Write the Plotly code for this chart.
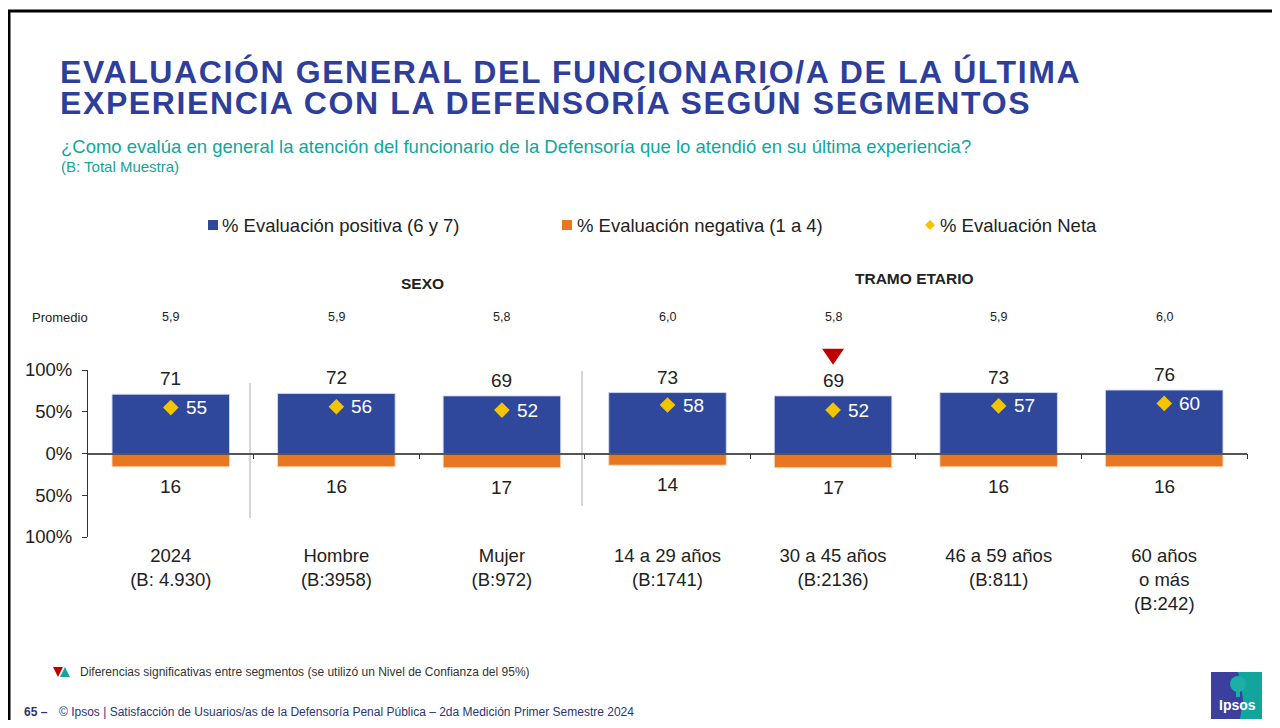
import plotly.graph_objects as go

# ---------------- data ----------------
categories = ["2024<br>(B: 4.930)", "Hombre<br>(B:3958)", "Mujer<br>(B:972)",
              "14 a 29 años<br>(B:1741)", "30 a 45 años<br>(B:2136)",
              "46 a 59 años<br>(B:811)", "60 años<br>o más<br>(B:242)"]
positive = [71, 72, 69, 73, 69, 73, 76]
negative = [16, 16, 17, 14, 17, 16, 16]
net = [55, 56, 52, 58, 52, 57, 60]
promedio = ["5,9", "5,9", "5,8", "6,0", "5,8", "5,9", "6,0"]
significance = [None, None, None, None, "down", None, None]
ytick_vals = [-100, -50, 0, 50, 100]
ytick_text = ["100%", "50%", "0%", "50%", "100%"]

# ---------------- style ----------------
FONT = "Liberation Sans, Arial, sans-serif"
BLUE = "#2F489C"
ORANGE = "#E87722"
YELLOW = "#F2C500"
TITLE_BLUE = "#2E3F9B"
TEAL = "#12A59C"
TXT = "#222222"

O = 8  # page body margin
W, H = 1264, 712
L = 88 - O
T = 370 - O
R = W - (1247 - O)
B = H - (537 - O)
PW, PH = W - L - R, H - T - B
Y_RANGE = [-100, 100]
X_RANGE = [-0.5, 6.5]


def px(x):
    return (x - O - L) / PW


def py(y):
    return (H - B - (y - O)) / PH


def data_to_paper_x(i):
    return (i - X_RANGE[0]) / (X_RANGE[1] - X_RANGE[0])


def data_to_paper_y(v):
    return (v - Y_RANGE[0]) / (Y_RANGE[1] - Y_RANGE[0])


fig = go.Figure()

fig.add_trace(go.Bar(x=categories, y=positive, name="% Evaluación positiva (6 y 7)",
                     marker=dict(color=BLUE, line=dict(color="rgba(210,218,240,0.9)", width=1)),
                     width=0.71, showlegend=False, hoverinfo="skip"))
fig.add_trace(go.Bar(x=categories, y=[-v for v in negative], name="% Evaluación negativa (1 a 4)",
                     marker=dict(color=ORANGE, line=dict(color="rgba(250,220,190,0.9)", width=1)),
                     width=0.71, showlegend=False, hoverinfo="skip"))
fig.add_trace(go.Scatter(x=categories, y=net, mode="markers", name="% Evaluación Neta",
                         marker=dict(symbol="diamond", size=12, color=YELLOW),
                         showlegend=False, hoverinfo="skip"))

# helper axis for the zero line with boundary ticks
fig.add_trace(go.Scatter(x=[None], y=[None], xaxis="x2", showlegend=False, hoverinfo="skip"))

annotations = []
for c, p, n, nt, pr in zip(categories, positive, negative, net, promedio):
    annotations.append(dict(x=c, y=p, xref="x", yref="y", text=str(p), showarrow=False,
                            yanchor="bottom", yshift=3, font=dict(family=FONT, size=19, color=TXT)))
    annotations.append(dict(x=c, y=-n, xref="x", yref="y", text=str(n), showarrow=False,
                            yanchor="top", yshift=-7, font=dict(family=FONT, size=19, color=TXT)))
    annotations.append(dict(x=c, y=nt, xref="x", yref="y", text=str(nt), showarrow=False,
                            xanchor="left", yanchor="middle", xshift=13,
                            font=dict(family=FONT, size=19, color="white")))
    annotations.append(dict(x=c, y=py(317), xref="x", yref="paper", text=pr, showarrow=False,
                            yanchor="middle", font=dict(family=FONT, size=12.5, color=TXT)))

title_style = "font-size:32px;letter-spacing:1.6px"
annotations += [
    dict(x=px(60), y=py(317), xref="paper", yref="paper", text="Promedio", showarrow=False,
         xanchor="center", yanchor="middle", font=dict(family=FONT, size=13, color=TXT)),
    dict(x=px(422), y=py(283), xref="paper", yref="paper", text="<b>SEXO</b>", showarrow=False,
         xanchor="center", yanchor="middle", font=dict(family=FONT, size=15.5, color=TXT)),
    dict(x=px(915), y=py(278), xref="paper", yref="paper", text="<b>TRAMO ETARIO</b>", showarrow=False,
         xanchor="center", yanchor="middle", font=dict(family=FONT, size=15.5, color=TXT)),
    # title (one text block, tight line spacing)
    dict(x=px(58), y=py(88), xref="paper", yref="paper",
         text=(f"<span style='{title_style}'><b>EVALUACIÓN GENERAL DEL FUNCIONARIO/A DE LA ÚLTIMA</b></span><br>"
               f"<span style='{title_style}'><b>EXPERIENCIA CON LA DEFENSORÍA SEGÚN SEGMENTOS</b></span>"),
         showarrow=False, align="left",
         xanchor="left", yanchor="middle", font=dict(family=FONT, size=23.5, color=TITLE_BLUE)),
    dict(x=px(59), y=py(146), xref="paper", yref="paper",
         text="¿Como evalúa en general la atención del funcionario de la Defensoría que lo atendió en su última experiencia?",
         showarrow=False, xanchor="left", yanchor="middle", font=dict(family=FONT, size=18.5, color=TEAL)),
    dict(x=px(59), y=py(166), xref="paper", yref="paper", text="(B: Total Muestra)",
         showarrow=False, xanchor="left", yanchor="middle", font=dict(family=FONT, size=15, color=TEAL)),
    # legend texts
    dict(x=px(220), y=py(225), xref="paper", yref="paper", text="% Evaluación positiva (6 y 7)",
         showarrow=False, xanchor="left", yanchor="middle", font=dict(family=FONT, size=18.5, color=TXT)),
    dict(x=px(575), y=py(225), xref="paper", yref="paper", text="% Evaluación negativa (1 a 4)",
         showarrow=False, xanchor="left", yanchor="middle", font=dict(family=FONT, size=18.5, color=TXT)),
    dict(x=px(938), y=py(225), xref="paper", yref="paper", text="% Evaluación Neta",
         showarrow=False, xanchor="left", yanchor="middle", font=dict(family=FONT, size=18.5, color=TXT)),
    # footnote
    dict(x=px(78), y=py(672), xref="paper", yref="paper",
         text="Diferencias significativas entre segmentos (se utilizó un Nivel de Confianza del 95%)",
         showarrow=False, xanchor="left", yanchor="middle", font=dict(family=FONT, size=12, color="#333333")),
    dict(x=px(22), y=py(712), xref="paper", yref="paper", text="<b>65 –</b>",
         showarrow=False, xanchor="left", yanchor="middle", font=dict(family=FONT, size=12, color="#2B3576")),
    dict(x=px(57), y=py(712), xref="paper", yref="paper",
         text="© Ipsos | Satisfacción de Usuarios/as de la Defensoría Penal Pública – 2da Medición Primer Semestre 2024",
         showarrow=False, xanchor="left", yanchor="middle", font=dict(family=FONT, size=12, color="#2B3576")),
    dict(x=px(1237), y=py(705), xref="paper", yref="paper", text="<b>Ipsos</b>",
         showarrow=False, xanchor="center", yanchor="middle", font=dict(family=FONT, size=14, color="white")),
]


def rect(x0, y0, x1, y1, color, line=None):
    return dict(type="rect", xref="paper", yref="paper", x0=px(x0), x1=px(x1), y0=py(y0), y1=py(y1),
                fillcolor=color, line=line or dict(width=0), layer="above")


def path(points, color):
    d = "M " + " L ".join(f"{px(a)},{py(b)}" for a, b in points) + " Z"
    return dict(type="path", xref="paper", yref="paper", path=d, fillcolor=color,
                line=dict(width=0), layer="above")


shapes = [
    # frame
    dict(type="rect", xref="paper", yref="paper", x0=px(9), x1=px(1300), y0=py(11), y1=py(760),
         line=dict(color="black", width=3), fillcolor="rgba(0,0,0,0)"),
    # separators
    dict(type="line", xref="paper", yref="paper", x0=px(250), x1=px(250), y0=py(383), y1=py(518),
         line=dict(color="#C8C8C8", width=1.5), layer="below"),
    dict(type="line", xref="paper", yref="paper", x0=px(582), x1=px(582), y0=py(371), y1=py(506),
         line=dict(color="#C8C8C8", width=1.5), layer="below"),
    # legend markers
    rect(208, 220, 218, 230, BLUE),
    rect(562, 220, 572, 230, ORANGE),
    path([(930, 220), (935, 225), (930, 230), (925, 225)], YELLOW),
    # footnote triangles
    path([(53, 667), (63, 667), (58, 677)], "#C00000"),
    path([(60, 677), (70, 677), (65, 667)], "#1AA39B"),
    # logo
    rect(1211, 672, 1262, 719, "#3B3F9E"),
    path([(1238, 672), (1262, 672), (1262, 719), (1240, 719), (1243, 700), (1241, 685)], TEAL),
    dict(type="circle", xref="paper", yref="paper", x0=px(1230), x1=px(1246), y0=py(676), y1=py(692),
         fillcolor="#1AB0A6", line=dict(width=0), layer="above"),
    rect(1236, 688, 1240, 697, "#1AB0A6"),
]

# significance triangles, placed above the positive label of the flagged segment
HALF_W = 11 / PW   # paper units
HALF_H = 8 / PH
for i, (p, s) in enumerate(zip(positive, significance)):
    if s == "down":
        cx = data_to_paper_x(i)
        cy = data_to_paper_y(p + 47)
        shapes.append(dict(type="path", xref="paper", yref="paper",
                           path=(f"M {cx - HALF_W},{cy + HALF_H} L {cx + HALF_W},{cy + HALF_H} "
                                 f"L {cx},{cy - HALF_H} Z"),
                           fillcolor="#C00000", line=dict(width=0), layer="above"))

fig.update_layout(
    width=W, height=H, autosize=False,
    margin=dict(l=L, r=R, t=T, b=B, pad=0),
    paper_bgcolor="white", plot_bgcolor="white",
    barmode="relative", bargap=0.29,
    font=dict(family=FONT, color=TXT),
    showlegend=False,
    xaxis=dict(type="category", range=X_RANGE, showline=False, ticks="", showgrid=False,
               zeroline=False, tickfont=dict(family=FONT, size=18.5, color=TXT), fixedrange=True,
               ticklabelstandoff=5),
    xaxis2=dict(overlaying="x", anchor="free", position=0.5, range=X_RANGE, type="linear",
                tickvals=[0.5, 1.5, 2.5, 3.5, 4.5, 5.5, 6.5], ticks="outside", ticklen=5,
                tickcolor="#333333", tickwidth=1, showticklabels=False, showline=True,
                linecolor="#555555", linewidth=1.5, showgrid=False, zeroline=False),
    yaxis=dict(range=Y_RANGE, tickvals=ytick_vals, ticktext=ytick_text, ticks="outside",
               ticklen=5, tickcolor="#333333", showline=True, linecolor="#333333", linewidth=1,
               showgrid=False, zeroline=False, tickfont=dict(family=FONT, size=18.5, color=TXT),
               ticklabelstandoff=6),
    annotations=annotations, shapes=shapes,
)

fig.write_html("out.html")
